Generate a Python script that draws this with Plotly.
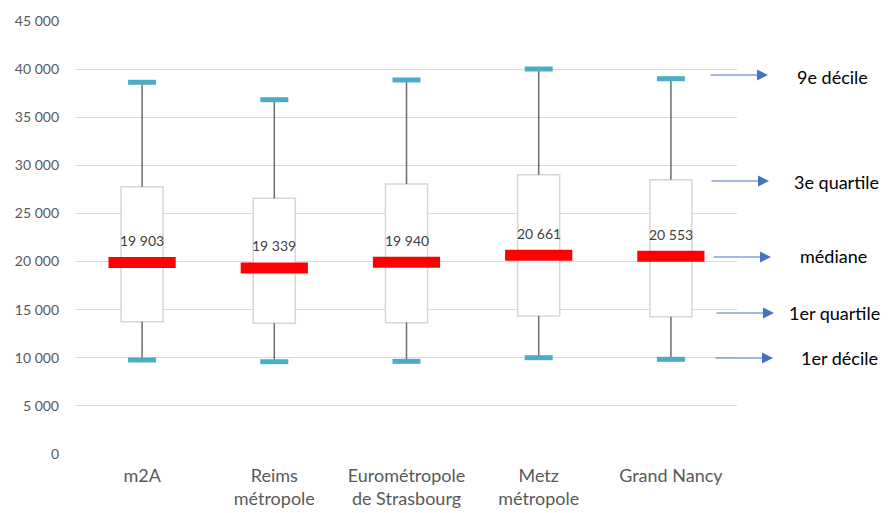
import plotly.graph_objects as go

categories = ["m2A", "Reims<br>métropole", "Eurométropole<br>de Strasbourg", "Metz<br>métropole", "Grand Nancy"]
d1 = [9770, 9590, 9630, 10010, 9840]
q1 = [13750, 13580, 13650, 14340, 14270]
median = [19903, 19339, 19940, 20661, 20553]
q3 = [27780, 26570, 28060, 29030, 28500]
d9 = [38630, 36820, 38870, 40010, 39000]

legend_labels = ["9e décile", "3e quartile", "médiane", "1er quartile", "1er décile"]

FONT = "Lato"

fig = go.Figure()

# whiskers
wx, wy = [], []
for c, a, b, c3, d in zip(categories, d1, q1, q3, d9):
    wx += [c, c, None, c, c, None]
    wy += [c3, d, None, b, a, None]
fig.add_trace(go.Scatter(x=wx, y=wy, mode="lines", line=dict(color="#6b6b6b", width=1.5),
                         hoverinfo="skip", showlegend=False))

# boxes
fig.add_trace(go.Bar(x=categories, y=[b - a for a, b in zip(q1, q3)], base=q1, width=0.318,
                     marker=dict(color="white", line=dict(color="#d6d6d6", width=1.5)),
                     showlegend=False))

# decile caps
for vals in (d1, d9):
    fig.add_trace(go.Scatter(x=categories, y=vals, mode="markers",
                             marker=dict(symbol="line-ew", size=20,
                                         line=dict(color="#4bacc6", width=5)),
                             showlegend=False))

# median bars
fig.add_trace(go.Scatter(x=categories, y=median, mode="markers",
                         marker=dict(symbol="line-ew", size=48,
                                     line=dict(color="#ff0000", width=11)),
                         showlegend=False))

# median labels
for c, m in zip(categories, median):
    fig.add_annotation(x=c, y=m, text=f"{m:,}".replace(",", " "), showarrow=False,
                       yshift=22, font=dict(family=FONT, size=14, color="#404040"))

# page offset (browser body margin)
OFF = 8
# target plot area in page pixels
L, R, T, B = 76, 737, 21, 454
W, H = R - L, B - T
def px(x):
    return (x - L) / W
def py(y):
    return (B - y) / H

arrow_specs = [
    (709, 768, 75, 795, 77),
    (710, 769, 181, 792, 182),
    (712, 771, 257, 798, 256),
    (715, 774, 313, 787, 313),
    (714, 773, 358, 799, 358),
]
for lab, (x0, x1, ya, tx, ty) in zip(legend_labels, arrow_specs):
    fig.add_annotation(xref="paper", yref="paper", x=px(x1), y=py(ya),
                       ax=x0 - x1, ay=0, axref="pixel", ayref="pixel",
                       showarrow=True, arrowhead=2, arrowsize=2.2, arrowwidth=1,
                       arrowcolor="#4472c4", text="")
    fig.add_annotation(xref="paper", yref="paper", x=px(tx), y=py(ty), text=lab,
                       showarrow=False, xanchor="left", yanchor="middle",
                       font=dict(family=FONT, size=18, color="#000000"))

fig.update_layout(
    width=890 - OFF, height=513 - OFF,
    margin=dict(l=L - OFF, r=890 - R, t=T - OFF, b=513 - B),
    paper_bgcolor="white", plot_bgcolor="white",
    separators=", ",
    showlegend=False,
    font=dict(family=FONT),
    xaxis=dict(type="category", showgrid=False, zeroline=False, showline=False,
               tickfont=dict(family=FONT, size=18, color="#595959"), ticks="",
               ticklabelstandoff=9, automargin=False),
    yaxis=dict(range=[0, 45000], dtick=5000, tickformat=",d", showgrid=True,
               gridcolor="#d9d9d9", gridwidth=1, zeroline=False, showline=False,
               tickfont=dict(family=FONT, size=14, color="#595959"),
               ticklabelstandoff=16, automargin=False),
)

fig.write_html("out.html")
